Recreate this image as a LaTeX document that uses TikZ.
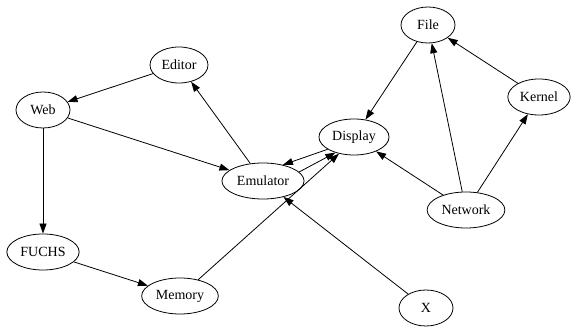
\documentclass[tikz,border=0pt]{standalone}
\usepackage{fontspec}
\setmainfont{Liberation Serif}
\usetikzlibrary{shapes.geometric,arrows.meta}
\begin{document}
\begin{tikzpicture}[x=1pt,y=-1pt,
  nd/.style={ellipse,draw,line width=0.8pt,inner xsep=3pt,inner ysep=0pt,
    minimum width=54pt,minimum height=36pt,font=\fontsize{14}{16}\selectfont},
  arr/.style={-{Triangle[length=10pt,width=7pt]},line width=0.8pt}]
\useasboundingbox (0,0) rectangle (571,331);
\node[nd] (editor) at (179,65) {Editor};
\node[nd] (web) at (43,110) {Web};
\node[nd] (file) at (428,25) {File};
\node[nd] (kernel) at (539,97) {Kernel};
\node[nd] (disp) at (354,137) {Display};
\node[nd] (emu) at (263,181) {Emulator};
\node[nd] (net) at (466,210) {Network};
\node[nd] (fuchs) at (43,252) {FUCHS};
\node[nd] (mem) at (180,296) {Memory};
\node[nd] (x) at (426,308) {X};
%left part
\draw[arr] (editor)--(web);
\draw[arr] (web)--(emu);
\draw[arr] (web)--(fuchs);
\draw[arr] (emu)--(editor);
\draw[arr] (fuchs)--(mem);
\draw[arr] (mem)--(disp.228);
\draw[arr] (x)--(emu);
%emulator <-> display
\draw[arr] (emu.14)--(disp.220);
\draw[arr] (disp.205)--(emu.39);
%right part
\draw[arr] (file)--(disp);
\draw[arr] (net)--(disp);
\draw[arr] (net)--(file);
\draw[arr] (net)--(kernel);
\draw[arr] (kernel)--(file);
\end{tikzpicture}
\end{document}
